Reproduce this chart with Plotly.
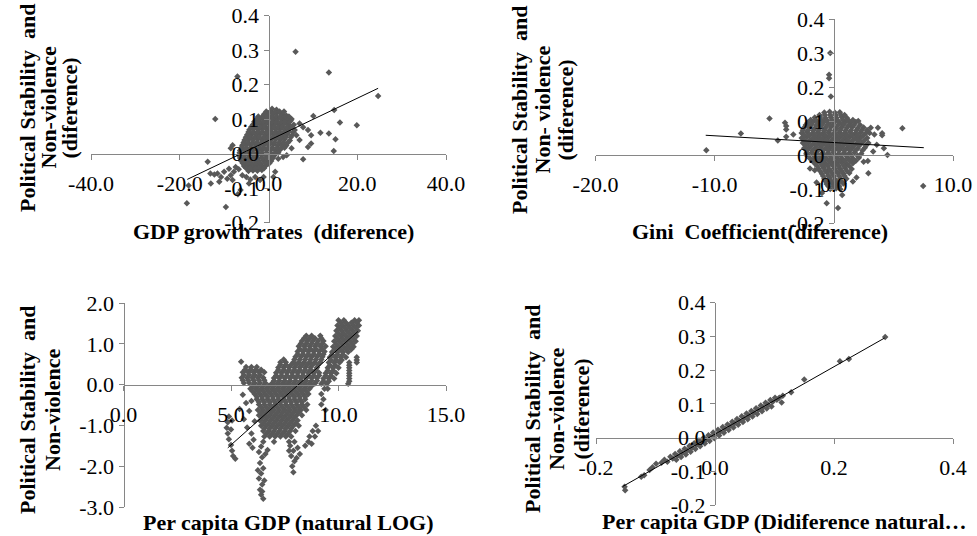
import plotly.graph_objects as go

W, H = 977, 536
FONT = "Liberation Serif, Times New Roman, serif"
MARK = "#595959"
AXC = "#868686"

# ---------------- Panel 1: GDP growth rates (diference) ----------------
gdp_x = [
    6.1, 13.6, -7.0, 24.7, 14.8, 10.1, 16.1, 19.9, 11.7, 13.6,
    15.1, 14.7, -12.0, 7.8, -18.4, -9.6, -6.9, -18.0, -13.0, 5.2,
    7.0, 7.8, 8.9, 9.6, 9.6, 8.9, 7.0, 6.3, 4.1, 3.3,
    5.2, 2.2, 1.5, 1.1, 0.0, -13.7, -13.1, -12.2, -11.5, -10.7,
    -11.1, -9.3, -8.5, -7.8, -6.7, -5.9, -5.0, -4.1, -4.4, -3.0,
    -8.1, -10.0, -5.2, -7.4, -8.9, -6.3, -1.9, -1.1, -8.5, -8.1,
    0.8, 1.8,
    -1.0, 0.0, 1.0, 2.0, 3.0, 4.0,
    -2.8, -1.8, -0.8, 0.2, 1.2, 2.2, 3.2, 4.2, 5.0,
    -3.5, -2.5, -1.5, -0.5, 0.5, 1.5, 2.5, 3.5, 4.5, 5.7,
    -4.3, -3.3, -2.3, -1.3, -0.3, 0.7, 1.7, 2.7, 3.7, 4.7, 5.9,
    -4.8, -3.8, -2.8, -1.8, -0.8, 0.2, 1.2, 2.2, 3.2, 4.2, 5.3,
    -5.4, -4.4, -3.4, -2.4, -1.4, -0.4, 0.6, 1.6, 2.6, 3.6, 4.8,
    -5.9, -4.9, -3.9, -2.9, -1.9, -0.9, 0.1, 1.1, 2.1, 3.1, 4.0,
    -6.4, -5.4, -4.4, -3.4, -2.4, -1.4, -0.4, 0.6, 1.6, 2.6,
    -6.6, -5.6, -4.6, -3.6, -2.6, -1.6, -0.6, 0.4, 1.3,
    -6.2, -5.2, -4.2, -3.2, -2.2, -1.2, -0.2, 0.6,
    -5.5, -4.5, -3.5, -2.5, -1.5, -0.5,
    -4.5, -3.5, -2.5, -1.5,
    -0.5, 0.5, 1.5, 2.5, 3.5,
    -2.3, -1.3, -0.3, 0.7, 1.7, 2.7, 3.7, 4.6,
    -3.2, -2.2, -1.2, -0.2, 0.8, 1.8, 2.8, 3.8, 4.8,
    -3.9, -2.9, -1.9, -0.9, 0.1, 1.1, 2.1, 3.1, 4.1, 5.2,
    -4.5, -3.5, -2.5, -1.5, -0.5, 0.5, 1.5, 2.5, 3.5, 4.5, 5.6,
    -5.1, -4.1, -3.1, -2.1, -1.1, -0.1, 0.9, 1.9, 2.9, 3.9, 5.0,
    -5.6, -4.6, -3.6, -2.6, -1.6, -0.6, 0.4, 1.4, 2.4, 3.4, 4.4,
    -6.1, -5.1, -4.1, -3.1, -2.1, -1.1, -0.1, 0.9, 1.9, 2.9, 3.6,
    -6.5, -5.5, -4.5, -3.5, -2.5, -1.5, -0.5, 0.5, 1.5, 2.2,
    -6.4, -5.4, -4.4, -3.4, -2.4, -1.4, -0.4, 0.5, 1.0,
    -5.8, -4.8, -3.8, -2.8, -1.8, -0.8, 0.2,
    -5.0, -4.0, -3.0, -2.0, -1.0,
]
gdp_y = [
    0.295, 0.235, 0.223, 0.167, 0.126, 0.109, 0.090, 0.082, 0.060, 0.058,
    0.041, 0.007, 0.100, -0.017, -0.144, -0.155, -0.118, -0.093, -0.087, 0.100,
    0.087, 0.076, 0.068, 0.053, 0.029, 0.019, 0.039, 0.053, -0.005, -0.010,
    0.015, -0.015, -0.053, -0.068, -0.029, -0.024, -0.058, -0.061, -0.058, -0.068,
    -0.082, -0.073, -0.063, -0.053, -0.046, -0.063, -0.068, -0.075, -0.087, -0.068,
    -0.077, -0.053, -0.039, -0.039, -0.044, -0.106, -0.077, -0.068, 0.015, 0.024,
    0.130, 0.127,
    0.114, 0.117, 0.115, 0.118, 0.113, 0.110,
    0.098, 0.101, 0.100, 0.103, 0.099, 0.102, 0.100, 0.098, 0.096,
    0.084, 0.086, 0.085, 0.087, 0.084, 0.086, 0.085, 0.087, 0.084, 0.083,
    0.069, 0.071, 0.070, 0.072, 0.069, 0.071, 0.070, 0.072, 0.069, 0.071, 0.068,
    0.054, 0.056, 0.055, 0.057, 0.054, 0.056, 0.055, 0.057, 0.054, 0.056, 0.053,
    0.039, 0.041, 0.040, 0.042, 0.039, 0.041, 0.040, 0.042, 0.039, 0.041, 0.038,
    0.024, 0.026, 0.025, 0.027, 0.024, 0.026, 0.025, 0.027, 0.024, 0.026, 0.023,
    0.009, 0.011, 0.010, 0.012, 0.009, 0.011, 0.010, 0.012, 0.009, 0.011,
    -0.006, -0.004, -0.005, -0.003, -0.006, -0.004, -0.005, -0.003, -0.006,
    -0.021, -0.019, -0.020, -0.018, -0.021, -0.019, -0.020, -0.022,
    -0.036, -0.034, -0.035, -0.033, -0.036, -0.034,
    -0.051, -0.049, -0.050, -0.048,
    0.122, 0.122, 0.122, 0.122, 0.122,
    0.107, 0.107, 0.107, 0.107, 0.107, 0.107, 0.107, 0.107,
    0.092, 0.092, 0.092, 0.092, 0.092, 0.092, 0.092, 0.092, 0.092,
    0.077, 0.077, 0.077, 0.077, 0.077, 0.077, 0.077, 0.077, 0.077, 0.077,
    0.062, 0.062, 0.062, 0.062, 0.062, 0.062, 0.062, 0.062, 0.062, 0.062, 0.062,
    0.047, 0.047, 0.047, 0.047, 0.047, 0.047, 0.047, 0.047, 0.047, 0.047, 0.047,
    0.032, 0.032, 0.032, 0.032, 0.032, 0.032, 0.032, 0.032, 0.032, 0.032, 0.032,
    0.017, 0.017, 0.017, 0.017, 0.017, 0.017, 0.017, 0.017, 0.017, 0.017, 0.017,
    0.002, 0.002, 0.002, 0.002, 0.002, 0.002, 0.002, 0.002, 0.002, 0.002,
    -0.013, -0.013, -0.013, -0.013, -0.013, -0.013, -0.013, -0.013, -0.013,
    -0.028, -0.028, -0.028, -0.028, -0.028, -0.028, -0.028,
    -0.043, -0.043, -0.043, -0.043, -0.043,
]
gdp_trend_x = [-18.3, 24.7]
gdp_trend_y = [-0.075, 0.189]

# ---------------- Panel 2: Gini Coefficient (diference) ----------------
gini_x = [
    -0.3, -0.4, -0.4, -0.25, -5.4, -7.8, -10.7, -4.7, -4.1, -4.0,
    -4.0, -4.0, -3.4, 5.75, 4.05, 4.05, 4.2, 4.5, 7.5, 2.9,
    2.85, 1.9, 0.7, 0.35, -0.6, -1.0, -1.45, -2.0, -1.6, 2.05,
    3.1, 3.7, 3.0, 3.4, 3.6, 3.3, 2.5, 1.6, -1.6, -2.3,
    -0.8, -0.35, 0.1, 0.5,
    -1.6, -1.15, -0.7, -0.25, 0.2, 0.65, 1.1,
    -2.2, -1.75, -1.3, -0.85, -0.4, 0.05, 0.5, 0.95, 1.4, 1.85,
    -2.5, -2.05, -1.6, -1.15, -0.7, -0.25, 0.2, 0.65, 1.1, 1.55, 2.0, 2.5,
    -2.7, -2.25, -1.8, -1.35, -0.9, -0.45, 0.0, 0.45, 0.9, 1.35, 1.8, 2.25, 2.7,
    -2.7, -2.25, -1.8, -1.35, -0.9, -0.45, 0.0, 0.45, 0.9, 1.35, 1.8, 2.25, 2.8,
    -2.6, -2.15, -1.7, -1.25, -0.8, -0.35, 0.1, 0.55, 1.0, 1.45, 1.9, 2.35, 2.9,
    -2.5, -2.05, -1.6, -1.15, -0.7, -0.25, 0.2, 0.65, 1.1, 1.55, 2.0, 2.6,
    -2.3, -1.85, -1.4, -0.95, -0.5, -0.05, 0.4, 0.85, 1.3, 1.75, 2.3,
    -2.0, -1.55, -1.1, -0.65, -0.2, 0.25, 0.7, 1.15, 1.6, 2.1,
    -1.6, -1.15, -0.7, -0.25, 0.2, 0.65, 1.1, 1.6,
    -1.3, -0.85, -0.4, 0.05, 0.5, 0.95, 1.5,
    -1.0, -0.55, -0.1, 0.35, 0.8, 1.3,
    -0.8, -0.35, 0.1, 0.55, 1.05,
    -0.6, -0.15, 0.3, 0.8,
    -0.3, 0.2, 0.55,
    -1.2, -0.75, -0.3, 0.15, 0.6, 0.9,
    -1.95, -1.5, -1.05, -0.6, -0.15, 0.3, 0.75, 1.2, 1.6,
    -2.35, -1.9, -1.45, -1.0, -0.55, -0.1, 0.35, 0.8, 1.25, 1.7, 2.2,
    -2.6, -2.15, -1.7, -1.25, -0.8, -0.35, 0.1, 0.55, 1.0, 1.45, 1.9, 2.35, 2.8,
    -2.5, -2.05, -1.6, -1.15, -0.7, -0.25, 0.2, 0.65, 1.1, 1.55, 2.0, 2.5,
    -2.45, -2.0, -1.55, -1.1, -0.65, -0.2, 0.25, 0.7, 1.15, 1.6, 2.05, 2.55,
    -2.35, -1.9, -1.45, -1.0, -0.55, -0.1, 0.35, 0.8, 1.25, 1.7, 2.15, 2.7,
    -2.25, -1.8, -1.35, -0.9, -0.45, 0.0, 0.45, 0.9, 1.35, 1.8, 2.4,
    -2.1, -1.65, -1.2, -0.75, -0.3, 0.15, 0.6, 1.05, 1.5, 2.0,
    -1.8, -1.35, -0.9, -0.45, 0.0, 0.45, 0.9, 1.35, 1.85,
    -1.4, -0.95, -0.5, -0.05, 0.4, 0.85, 1.3,
    -1.15, -0.7, -0.25, 0.2, 0.65, 1.1,
    -0.9, -0.45, 0.0, 0.45, 0.9,
    -0.7, -0.25, 0.2, 0.6,
    -0.45, 0.0, 0.45,
]
gini_y = [
    0.300, 0.236, 0.226, 0.172, 0.107, 0.063, 0.014, 0.043, 0.095, 0.085,
    0.075, 0.054, 0.060, 0.079, 0.064, 0.058, 0.020, 0.000, -0.091, -0.054,
    -0.018, -0.066, -0.118, -0.156, -0.142, -0.112, -0.081, -0.040, -0.045, 0.100,
    0.080, 0.080, 0.065, 0.060, 0.030, 0.010, -0.020, -0.078, -0.010, 0.000,
    0.125, 0.127, 0.124, 0.126,
    0.110, 0.112, 0.109, 0.111, 0.110, 0.112, 0.109,
    0.095, 0.097, 0.094, 0.096, 0.095, 0.097, 0.094, 0.096, 0.095, 0.097,
    0.080, 0.082, 0.079, 0.081, 0.080, 0.082, 0.079, 0.081, 0.080, 0.082, 0.079, 0.081,
    0.065, 0.067, 0.064, 0.066, 0.065, 0.067, 0.064, 0.066, 0.065, 0.067, 0.064, 0.066, 0.065,
    0.050, 0.052, 0.049, 0.051, 0.050, 0.052, 0.049, 0.051, 0.050, 0.052, 0.049, 0.051, 0.050,
    0.035, 0.037, 0.034, 0.036, 0.035, 0.037, 0.034, 0.036, 0.035, 0.037, 0.034, 0.036, 0.035,
    0.020, 0.022, 0.019, 0.021, 0.020, 0.022, 0.019, 0.021, 0.020, 0.022, 0.019, 0.021,
    0.005, 0.007, 0.004, 0.006, 0.005, 0.007, 0.004, 0.006, 0.005, 0.007, 0.004,
    -0.010, -0.008, -0.011, -0.009, -0.010, -0.008, -0.011, -0.009, -0.010, -0.008,
    -0.025, -0.023, -0.026, -0.024, -0.025, -0.023, -0.026, -0.024,
    -0.040, -0.038, -0.041, -0.039, -0.040, -0.038, -0.041,
    -0.055, -0.053, -0.056, -0.054, -0.055, -0.053,
    -0.070, -0.068, -0.071, -0.069, -0.070,
    -0.085, -0.083, -0.086, -0.084,
    -0.100, -0.098, -0.101,
    0.118, 0.118, 0.118, 0.118, 0.118, 0.118,
    0.103, 0.103, 0.103, 0.103, 0.103, 0.103, 0.103, 0.103, 0.103,
    0.088, 0.088, 0.088, 0.088, 0.088, 0.088, 0.088, 0.088, 0.088, 0.088, 0.088,
    0.073, 0.073, 0.073, 0.073, 0.073, 0.073, 0.073, 0.073, 0.073, 0.073, 0.073, 0.073, 0.073,
    0.058, 0.058, 0.058, 0.058, 0.058, 0.058, 0.058, 0.058, 0.058, 0.058, 0.058, 0.058,
    0.043, 0.043, 0.043, 0.043, 0.043, 0.043, 0.043, 0.043, 0.043, 0.043, 0.043, 0.043,
    0.028, 0.028, 0.028, 0.028, 0.028, 0.028, 0.028, 0.028, 0.028, 0.028, 0.028, 0.028,
    0.013, 0.013, 0.013, 0.013, 0.013, 0.013, 0.013, 0.013, 0.013, 0.013, 0.013,
    -0.002, -0.002, -0.002, -0.002, -0.002, -0.002, -0.002, -0.002, -0.002, -0.002,
    -0.017, -0.017, -0.017, -0.017, -0.017, -0.017, -0.017, -0.017, -0.017,
    -0.032, -0.032, -0.032, -0.032, -0.032, -0.032, -0.032,
    -0.047, -0.047, -0.047, -0.047, -0.047, -0.047,
    -0.062, -0.062, -0.062, -0.062, -0.062,
    -0.077, -0.077, -0.077, -0.077,
    -0.092, -0.092, -0.092,
]
gini_trend_x = [-10.75, 7.55]
gini_trend_y = [0.058, 0.0215]

# ---------------- Panel 3: Per capita GDP (natural LOG) ----------------
lngdp_x = [
    10.0, 10.25, 10.75, 10.95,
    9.95, 10.2, 10.45, 10.7, 10.95,
    9.9, 10.15, 10.4, 10.65, 10.9,
    9.85, 10.1, 10.35, 10.6, 10.85,
    9.8, 10.05, 10.3, 10.55, 10.8,
    9.75, 10.0, 10.25, 10.5, 10.7,
    9.7, 9.95, 10.2, 10.45,
    9.6, 9.85, 10.1, 10.35, 10.85,
    9.55, 9.8, 10.05, 10.5, 10.85,
    9.5, 9.75, 10.0, 10.5,
    9.4, 9.65, 9.9, 10.5,
    9.3, 9.55, 9.8, 10.5,
    9.2, 9.45, 10.45,
    8.5, 8.75, 9.15,
    8.3, 8.55, 8.8, 9.05, 9.3,
    8.15, 8.4, 8.65, 8.9, 9.15, 9.4,
    8.1, 8.35, 8.6, 8.85, 9.1, 9.35,
    8.0, 8.25, 8.5, 8.75, 9.0, 9.25,
    7.3, 7.55, 7.9, 8.15, 8.4, 8.65, 8.9, 9.15,
    7.2, 7.45, 7.7, 7.95, 8.2, 8.45, 8.7, 9.0,
    7.1, 7.35, 7.6, 7.85, 8.1, 8.35, 8.6, 8.85, 9.1,
    7.0, 7.25, 7.5, 7.75, 8.0, 8.25, 8.5, 8.75, 9.0,
    6.9, 7.15, 7.4, 7.65, 7.9, 8.15, 8.4, 8.65, 8.9,
    5.47,
    5.7, 5.95, 6.2,
    5.55, 5.8, 6.05, 6.3, 6.55,
    5.5, 5.75, 6.0, 6.25, 6.5,
    5.6, 5.85, 6.1, 6.35, 6.6,
    5.9, 6.15, 6.4, 6.65, 6.9, 7.15, 7.4, 7.65, 7.9, 8.15, 8.4, 8.65,
    6.1, 6.35, 6.6, 6.85, 7.1, 7.35, 7.6, 7.85, 8.1, 8.35, 8.6, 9.2,
    6.2, 6.45, 6.7, 6.95, 7.2, 7.45, 7.7, 7.95, 8.2, 8.45, 9.3,
    6.3, 6.55, 6.8, 7.05, 7.3, 7.55, 7.8, 8.05, 8.3, 8.55, 9.2,
    6.25, 6.5, 6.75, 7.0, 7.25, 7.5, 7.75, 8.0, 8.25, 8.5, 9.4,
    6.3, 6.55, 6.8, 7.05, 7.3, 7.55, 7.8, 8.05, 8.3,
    6.35, 6.6, 6.85, 7.1, 7.35, 7.6, 7.85, 8.1,
    6.4, 6.65, 6.9, 7.15, 7.4, 7.65, 7.9, 8.15, 8.95,
    6.5, 6.75, 7.0, 7.25, 7.5, 7.75, 8.0, 8.8, 9.05,
    6.55, 6.8, 7.05, 7.3, 7.55, 7.8, 8.65, 8.9,
    6.5, 7.0, 7.7, 7.95, 8.6,
    5.55, 5.7, 5.85, 5.6, 5.75, 5.95, 6.05, 6.1, 5.95, 5.4, 6.0, 5.85,
    4.9, 4.85, 4.8, 4.85, 4.9, 5.0, 5.05, 5.1, 5.2, 5.0, 5.05,
    6.4, 6.3, 6.45, 6.35, 6.5, 6.4, 6.3, 6.45, 6.35, 6.4, 6.5, 6.6, 6.25, 6.55, 6.7, 6.45,
    7.75, 7.9, 7.8, 7.95, 7.85, 7.9, 8.1, 8.2, 7.7, 8.05,
    8.45, 8.75, 9.5, 9.35,
    10.1, 10.35, 10.6, 10.85,
    10.05, 10.3, 10.55, 10.8,
    10.0, 10.25, 10.5, 10.75,
    9.95, 10.2, 10.45, 10.7,
    9.9, 10.15, 10.4, 10.65,
    9.85, 10.1, 10.35, 10.6,
    9.7, 9.95, 10.2,
    9.65, 9.9, 10.15, 10.85,
    9.6, 9.85, 10.5,
    9.5, 9.75, 10.5,
    9.4, 9.65, 10.5,
    9.3, 9.55, 10.5,
    8.4, 8.65, 8.9, 9.2,
    8.25, 8.5, 8.75, 9.0, 9.25,
    8.2, 8.45, 8.7, 8.95, 9.25,
    8.1, 8.35, 8.6, 8.85, 9.1, 9.3,
    7.45, 7.95, 8.2, 8.45, 8.7, 8.95, 9.2,
    7.3, 7.55, 7.8, 8.05, 8.3, 8.55, 8.8, 9.05,
    7.2, 7.45, 7.7, 7.95, 8.2, 8.45, 8.7, 8.95,
    7.1, 7.35, 7.6, 7.85, 8.1, 8.35, 8.6, 8.85, 9.1,
    7.0, 7.25, 7.5, 7.75, 8.0, 8.25, 8.5, 8.75, 9.0,
    6.0, 6.25, 6.5, 6.75, 7.0, 7.25, 7.5, 7.75, 8.0, 8.25, 8.5, 8.75,
    5.65, 5.9, 6.15, 6.4,
    5.6, 5.85, 6.1, 6.35,
    5.55, 5.8, 6.05, 6.3, 6.55,
    6.0, 6.25, 6.5, 6.75, 7.0, 7.25, 7.5, 7.75, 8.0, 8.25, 8.5,
    6.2, 6.45, 6.7, 6.95, 7.2, 7.45, 7.7, 7.95, 8.2, 8.45,
    6.3, 6.55, 6.8, 7.05, 7.3, 7.55, 7.8, 8.05, 8.3,
    6.4, 6.65, 6.9, 7.15, 7.4, 7.65, 7.9, 8.15, 8.4,
    6.4, 6.65, 6.9, 7.15, 7.4, 7.65, 7.9, 8.15,
    6.45, 6.7, 6.95, 7.2, 7.45, 7.7, 7.95,
    6.5, 6.75, 7.0, 7.25, 7.5, 7.75, 8.0,
    6.55, 6.8, 7.05, 7.3, 7.55, 7.8,
    6.65, 6.9, 7.15, 7.4, 7.65,
]
lngdp_y = [
    1.58, 1.58, 1.58, 1.58,
    1.45, 1.45, 1.45, 1.45, 1.45,
    1.32, 1.32, 1.32, 1.32, 1.32,
    1.19, 1.19, 1.19, 1.19, 1.19,
    1.06, 1.06, 1.06, 1.06, 1.06,
    0.93, 0.93, 0.93, 0.93, 0.93,
    0.80, 0.80, 0.80, 0.80,
    0.67, 0.67, 0.67, 0.67, 0.67,
    0.54, 0.54, 0.54, 0.54, 0.54,
    0.41, 0.41, 0.41, 0.41,
    0.28, 0.28, 0.28, 0.28,
    0.15, 0.15, 0.15, 0.15,
    0.02, 0.02, 0.02,
    1.20, 1.20, 1.20,
    1.07, 1.07, 1.07, 1.07, 1.07,
    0.94, 0.94, 0.94, 0.94, 0.94, 0.94,
    0.81, 0.81, 0.81, 0.81, 0.81, 0.81,
    0.68, 0.68, 0.68, 0.68, 0.68, 0.68,
    0.55, 0.55, 0.55, 0.55, 0.55, 0.55, 0.55, 0.55,
    0.42, 0.42, 0.42, 0.42, 0.42, 0.42, 0.42, 0.42,
    0.29, 0.29, 0.29, 0.29, 0.29, 0.29, 0.29, 0.29, 0.29,
    0.16, 0.16, 0.16, 0.16, 0.16, 0.16, 0.16, 0.16, 0.16,
    0.03, 0.03, 0.03, 0.03, 0.03, 0.03, 0.03, 0.03, 0.03,
    0.56,
    0.43, 0.43, 0.43,
    0.30, 0.30, 0.30, 0.30, 0.30,
    0.17, 0.17, 0.17, 0.17, 0.17,
    0.04, 0.04, 0.04, 0.04, 0.04,
    -0.10, -0.10, -0.10, -0.10, -0.10, -0.10, -0.10, -0.10, -0.10, -0.10, -0.10, -0.10,
    -0.23, -0.23, -0.23, -0.23, -0.23, -0.23, -0.23, -0.23, -0.23, -0.23, -0.23, -0.23,
    -0.36, -0.36, -0.36, -0.36, -0.36, -0.36, -0.36, -0.36, -0.36, -0.36, -0.36,
    -0.49, -0.49, -0.49, -0.49, -0.49, -0.49, -0.49, -0.49, -0.49, -0.49, -0.49,
    -0.62, -0.62, -0.62, -0.62, -0.62, -0.62, -0.62, -0.62, -0.62, -0.62, -0.62,
    -0.75, -0.75, -0.75, -0.75, -0.75, -0.75, -0.75, -0.75, -0.75,
    -0.88, -0.88, -0.88, -0.88, -0.88, -0.88, -0.88, -0.88,
    -1.01, -1.01, -1.01, -1.01, -1.01, -1.01, -1.01, -1.01, -1.01,
    -1.14, -1.14, -1.14, -1.14, -1.14, -1.14, -1.14, -1.14, -1.14,
    -1.27, -1.27, -1.27, -1.27, -1.27, -1.27, -1.27, -1.27,
    -1.40, -1.40, -1.40, -1.40, -1.40,
    -0.25, -0.45, -0.65, -0.85, -1.05, -1.20, -1.35, -0.90, -0.40, -0.60, -1.55, -1.45,
    -0.78, -0.92, -1.06, -1.20, -1.34, -1.48, -1.62, -1.75, -1.82, -1.10, -0.88,
    -1.52, -1.65, -1.78, -1.92, -2.05, -2.18, -2.30, -2.45, -2.58, -2.70, -2.80, -1.70, -2.10, -2.35, -1.60, -2.62,
    -1.50, -1.62, -1.75, -1.88, -2.00, -2.15, -1.55, -1.70, -1.62, -1.80,
    -1.50, -1.45, -0.10, -0.10,
    1.515, 1.515, 1.515, 1.515,
    1.385, 1.385, 1.385, 1.385,
    1.255, 1.255, 1.255, 1.255,
    1.125, 1.125, 1.125, 1.125,
    0.995, 0.995, 0.995, 0.995,
    0.865, 0.865, 0.865, 0.865,
    0.735, 0.735, 0.735,
    0.605, 0.605, 0.605, 0.605,
    0.475, 0.475, 0.475,
    0.345, 0.345, 0.345,
    0.215, 0.215, 0.215,
    0.085, 0.085, 0.085,
    1.135, 1.135, 1.135, 1.135,
    1.005, 1.005, 1.005, 1.005, 1.005,
    0.875, 0.875, 0.875, 0.875, 0.875,
    0.745, 0.745, 0.745, 0.745, 0.745, 0.745,
    0.615, 0.615, 0.615, 0.615, 0.615, 0.615, 0.615,
    0.485, 0.485, 0.485, 0.485, 0.485, 0.485, 0.485, 0.485,
    0.355, 0.355, 0.355, 0.355, 0.355, 0.355, 0.355, 0.355,
    0.225, 0.225, 0.225, 0.225, 0.225, 0.225, 0.225, 0.225, 0.225,
    0.095, 0.095, 0.095, 0.095, 0.095, 0.095, 0.095, 0.095, 0.095,
    -0.035, -0.035, -0.035, -0.035, -0.035, -0.035, -0.035, -0.035, -0.035, -0.035, -0.035, -0.035,
    0.365, 0.365, 0.365, 0.365,
    0.235, 0.235, 0.235, 0.235,
    0.105, 0.105, 0.105, 0.105, 0.105,
    -0.165, -0.165, -0.165, -0.165, -0.165, -0.165, -0.165, -0.165, -0.165, -0.165, -0.165,
    -0.295, -0.295, -0.295, -0.295, -0.295, -0.295, -0.295, -0.295, -0.295, -0.295,
    -0.425, -0.425, -0.425, -0.425, -0.425, -0.425, -0.425, -0.425, -0.425,
    -0.555, -0.555, -0.555, -0.555, -0.555, -0.555, -0.555, -0.555, -0.555,
    -0.685, -0.685, -0.685, -0.685, -0.685, -0.685, -0.685, -0.685,
    -0.815, -0.815, -0.815, -0.815, -0.815, -0.815, -0.815,
    -0.945, -0.945, -0.945, -0.945, -0.945, -0.945, -0.945,
    -1.075, -1.075, -1.075, -1.075, -1.075, -1.075,
    -1.205, -1.205, -1.205, -1.205, -1.205,
]
lngdp_trend_x = [4.85, 10.9]
lngdp_trend_y = [-1.55, 1.30]

# ------- Panel 4: Per capita GDP (diference of natural LOG) -------
dlngdp_x = [
    -0.152, -0.151, -0.124, -0.119, -0.110, -0.099, -0.085, -0.090, -0.080, -0.105,
    0.114, 0.128, 0.150, 0.210, 0.225, 0.286, 0.108, 0.112,
    -0.075, -0.067, -0.059, -0.051, -0.043, -0.035, -0.027, -0.019, -0.011, -0.003,
    0.005, 0.013, 0.021, 0.029, 0.037, 0.045, 0.053, 0.061, 0.069, 0.077, 0.085, 0.093, 0.101,
    -0.071, -0.063, -0.055, -0.047, -0.039, -0.031, -0.023, -0.015, -0.007, 0.001,
    0.009, 0.017, 0.025, 0.033, 0.041, 0.049, 0.057, 0.065, 0.073, 0.081, 0.089, 0.097, 0.104,
    -0.065, -0.057, -0.049, -0.041, -0.033, -0.025, -0.017, -0.009, -0.001, 0.007,
    0.015, 0.023, 0.031, 0.039, 0.047, 0.055, 0.063, 0.071, 0.079, 0.087, 0.095,
]
dlngdp_y = [
    -0.146, -0.156, -0.116, -0.112, -0.096, -0.078, -0.066, -0.075, -0.072, -0.088,
    0.124, 0.134, 0.172, 0.226, 0.233, 0.298, 0.118, 0.104,
    -0.057, -0.049, -0.041, -0.033, -0.025, -0.017, -0.009, -0.001, 0.007, 0.015,
    0.023, 0.031, 0.039, 0.047, 0.055, 0.063, 0.071, 0.079, 0.087, 0.095, 0.103, 0.111, 0.118,
    -0.062, -0.054, -0.046, -0.038, -0.030, -0.022, -0.014, -0.006, 0.002, 0.010,
    0.018, 0.026, 0.034, 0.042, 0.050, 0.058, 0.066, 0.074, 0.082, 0.090, 0.098, 0.106, 0.112,
    -0.066, -0.058, -0.050, -0.042, -0.034, -0.026, -0.018, -0.010, -0.002, 0.006,
    0.014, 0.022, 0.030, 0.038, 0.046, 0.054, 0.062, 0.070, 0.078, 0.086, 0.092,
]
dlngdp_trend_x = [-0.155, 0.285]
dlngdp_trend_y = [-0.145, 0.295]

# ---------------- tick labels ----------------
p1_xticks = [-40, -20, 0, 20, 40]
p1_xtext = ["-40.0", "-20.0", "0.0", "20.0", "40.0"]
diff_yticks = [-0.2, -0.1, 0.0, 0.1, 0.2, 0.3, 0.4]
diff_ytext = ["-0.2", "-0.1", "0.0", "0.1", "0.2", "0.3", "0.4"]
p2_xticks = [-20, -10, 0, 10]
p2_xtext = ["-20.0", "-10.0", "0.0", "10.0"]
p3_xticks = [0, 5, 10, 15]
p3_xtext = ["0.0", "5.0", "10.0", "15.0"]
p3_yticks = [-3, -2, -1, 0, 1, 2]
p3_ytext = ["-3.0", "-2.0", "-1.0", "0.0", "1.0", "2.0"]
p4_xticks = [-0.2, 0.0, 0.2, 0.4]
p4_xtext = ["-0.2", "0.0", "0.2", "0.4"]

SP = "\u00a0"
panels = [
    dict(x=gdp_x, y=gdp_y, tx=gdp_trend_x, ty=gdp_trend_y,
         xpx=(91, 446), ypx=(222.5, 15.5), xr=(-40, 40), yr=(-0.2, 0.4),
         xt=(p1_xticks, p1_xtext), yt=(diff_yticks, diff_ytext),
         xtitle="GDP growth rates " + SP + "(diference)", xtpos=(273, 232),
         ylines=["Political Stability " + SP + "and", "Non-violence", "(diference)"],
         ylx=[27, 47.5, 68.5], ly=108),
    dict(x=gini_x, y=gini_y, tx=gini_trend_x, ty=gini_trend_y,
         xpx=(595.5, 953), ypx=(223, 19), xr=(-20, 10), yr=(-0.2, 0.4),
         xt=(p2_xticks, p2_xtext), yt=(diff_yticks, diff_ytext),
         xtitle="Gini " + SP + "Coefficient(diference)", xtpos=(760, 232),
         ylines=["Political Stability " + SP + "and", "Non- violence", "(diference)"],
         ylx=[520, 542.5, 565.5], ly=110),
    dict(x=lngdp_x, y=lngdp_y, tx=lngdp_trend_x, ty=lngdp_trend_y,
         xpx=(123.5, 446), ypx=(507, 303), xr=(0, 15), yr=(-3, 2),
         xt=(p3_xticks, p3_xtext), yt=(p3_yticks, p3_ytext),
         xtitle="Per capita GDP (natural LOG)", xtpos=(288, 522),
         ylines=["Political Stability " + SP + "and", "Non-violence"],
         ylx=[27, 52], ly=410),
    dict(x=dlngdp_x, y=dlngdp_y, tx=dlngdp_trend_x, ty=dlngdp_trend_y,
         xpx=(596, 953), ypx=(505, 302.6), xr=(-0.2, 0.4), yr=(-0.2, 0.4),
         xt=(p4_xticks, p4_xtext), yt=(diff_yticks, diff_ytext),
         xtitle="Per capita GDP (Didiference natural\u2026", xtpos=(784, 521),
         ylines=["Political Stability " + SP + "and", "Non-violence", "(diference)"],
         ylx=[532, 556, 580.5], ly=409),
]

fig = go.Figure()
annotations = []
layout = {}
for i, p in enumerate(panels, start=1):
    n = min(len(p["x"]), len(p["y"]))
    if len(p["x"]) != len(p["y"]):
        print("length mismatch in panel", i, len(p["x"]), len(p["y"]))
    sfx = "" if i == 1 else str(i)
    fig.add_trace(go.Scatter(
        x=p["x"][:n], y=p["y"][:n], mode="markers",
        marker=dict(symbol="diamond", size=5, color=MARK, line=dict(width=0)),
        xaxis="x" + sfx, yaxis="y" + sfx, showlegend=False, hoverinfo="skip"))
    fig.add_trace(go.Scatter(
        x=p["tx"], y=p["ty"], mode="lines", line=dict(color="#000000", width=1),
        xaxis="x" + sfx, yaxis="y" + sfx, showlegend=False, hoverinfo="skip"))

    xd = [p["xpx"][0] / W, p["xpx"][1] / W]
    yd = [1 - p["ypx"][0] / H, 1 - p["ypx"][1] / H]
    x0, x1 = p["xr"]
    y0, y1 = p["yr"]
    xpos = yd[0] + (0 - y0) / (y1 - y0) * (yd[1] - yd[0])
    ypos = xd[0] + (0 - x0) / (x1 - x0) * (xd[1] - xd[0])
    common = dict(showgrid=False, zeroline=False, showline=True, linecolor=AXC,
                  linewidth=1, ticks="outside", ticklen=5, tickcolor=AXC, tickwidth=1,
                  tickfont=dict(family=FONT, size=22, color="#000000"),
                  ticklabeloverflow="allow", fixedrange=True, automargin=False)
    layout["xaxis" + sfx] = dict(domain=xd, range=[x0, x1], anchor="free", position=xpos,
                                 tickmode="array", tickvals=p["xt"][0], ticktext=p["xt"][1],
                                 ticklabelstandoff=5, **common)
    layout["yaxis" + sfx] = dict(domain=yd, range=[y0, y1], anchor="free", position=ypos,
                                 tickmode="array", tickvals=p["yt"][0], ticktext=p["yt"][1],
                                 **common)
    annotations.append(dict(
        text="<b>" + p["xtitle"] + "</b>", x=p["xtpos"][0] / W, y=1 - p["xtpos"][1] / H,
        xref="paper", yref="paper", xanchor="center", yanchor="middle", showarrow=False,
        font=dict(family=FONT, size=22, color="#000000")))
    for txt, lx in zip(p["ylines"], p["ylx"]):
        annotations.append(dict(
            text="<b>" + txt + "</b>", x=lx / W, y=1 - p["ly"] / H, textangle=-90,
            xref="paper", yref="paper", xanchor="center", yanchor="middle", showarrow=False,
            font=dict(family=FONT, size=22, color="#000000")))

fig.update_layout(
    width=W, height=H, margin=dict(l=0, r=0, t=0, b=0, autoexpand=False),
    paper_bgcolor="#ffffff", plot_bgcolor="rgba(0,0,0,0)",
    annotations=annotations, showlegend=False, **layout)

fig.write_html("out.html", config={"displayModeBar": False},
               post_script="document.body.style.margin='0';document.body.style.padding='0';")
